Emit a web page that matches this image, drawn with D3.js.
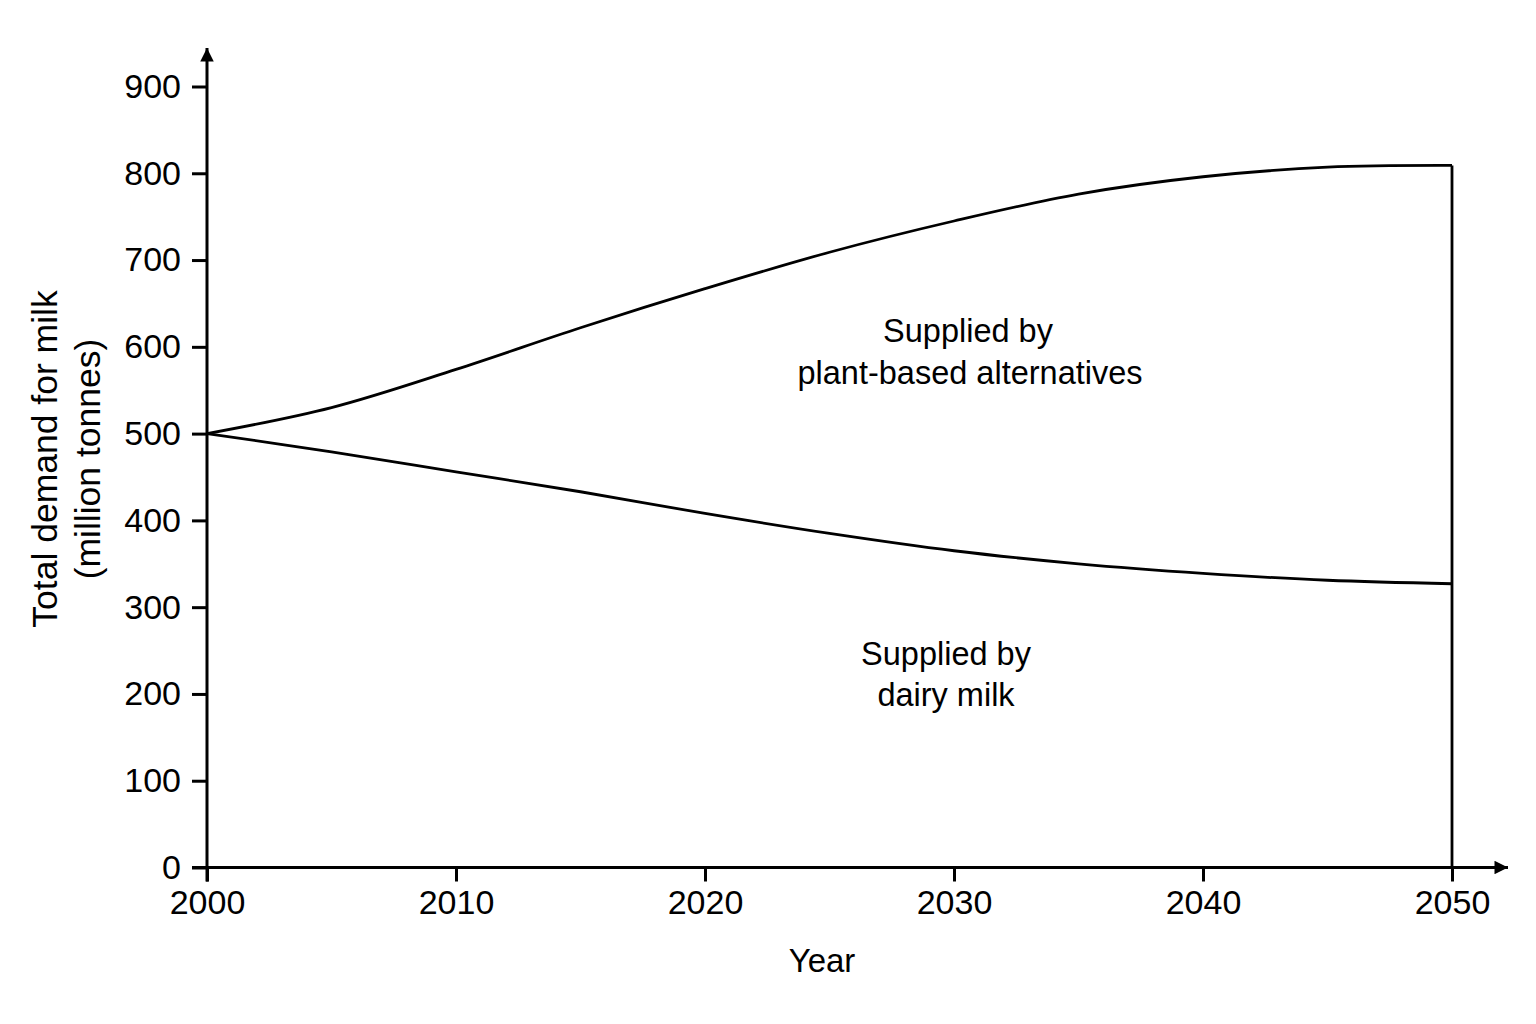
<html>
<head>
<meta charset="utf-8">
<title>Total demand for milk</title>
<style>
  body { margin: 0; background: #fff; }
  text { font-family: "Liberation Sans", Arial, Helvetica, sans-serif; fill: #000; }
</style>
<script src="https://d3js.org/d3.v7.min.js"></script>
</head>
<body>
<svg width="1536" height="1024"></svg>
<script>
// values (million tonnes)
var years = [2000, 2005, 2010, 2015, 2020, 2025, 2030, 2035, 2040, 2045, 2050];
var totalDemand = [500, 530, 574, 622, 667, 709, 745, 776, 796, 807, 809];
var dairySupply = [500, 479, 456, 433, 408, 385, 365, 350, 339, 331, 327];
var yTicks = [0, 100, 200, 300, 400, 500, 600, 700, 800, 900];
var xTicks = [2000, 2010, 2020, 2030, 2040, 2050];

var svg = d3.select("svg");

var x = d3.scaleLinear().domain([2000, 2050]).range([207, 1452]);
var y = d3.scaleLinear().domain([0, 900]).range([867.5, 86.5]);

// arrow heads
var defs = svg.append("defs");
defs.append("marker")
    .attr("id", "arrow")
    .attr("viewBox", "0 0 10 10")
    .attr("refX", 10).attr("refY", 5)
    .attr("markerWidth", 5.5).attr("markerHeight", 4.5)
    .attr("markerUnits", "strokeWidth")
    .attr("orient", "auto")
  .append("path")
    .attr("d", "M0,0 L10,5 L0,10 z")
    .attr("fill", "#000");

var tickFont = "34px";

// y axis ticks + labels
var yAxis = svg.append("g")
    .attr("transform", "translate(" + x(2000) + ",0)")
    .call(d3.axisLeft(y).tickValues(yTicks).tickSize(15).tickSizeOuter(0).tickPadding(11));
yAxis.select(".domain").remove();
yAxis.selectAll(".tick line").attr("stroke", "#000").attr("stroke-width", 3);
yAxis.selectAll(".tick text").style("font-size", tickFont).style("font-family", "'Liberation Sans', Arial, sans-serif");

// x axis ticks + labels
var xAxis = svg.append("g")
    .attr("transform", "translate(0," + y(0) + ")")
    .call(d3.axisBottom(x).tickValues(xTicks).tickFormat(d3.format("d")).tickSize(14).tickSizeOuter(0).tickPadding(8));
xAxis.select(".domain").remove();
xAxis.selectAll(".tick line").attr("stroke", "#000").attr("stroke-width", 3);
xAxis.selectAll(".tick text").style("font-size", tickFont).style("font-family", "'Liberation Sans', Arial, sans-serif");

// axis lines with arrows
svg.append("line")
    .attr("x1", x(2000)).attr("y1", y(0) + 14)
    .attr("x2", x(2000)).attr("y2", 48)
    .attr("stroke", "#000").attr("stroke-width", 3)
    .attr("marker-end", "url(#arrow)");
svg.append("line")
    .attr("x1", x(2000) - 15).attr("y1", y(0))
    .attr("x2", 1508).attr("y2", y(0))
    .attr("stroke", "#000").attr("stroke-width", 3)
    .attr("marker-end", "url(#arrow)");

var rows = years.map(function(d, i) { return {year: d, total: totalDemand[i], dairy: dairySupply[i]}; });

var totalLine = d3.line().x(d => x(d.year)).y(d => y(d.total)).curve(d3.curveCatmullRom.alpha(0.5));
var dairyLine = d3.line().x(d => x(d.year)).y(d => y(d.dairy)).curve(d3.curveCatmullRom.alpha(0.5));

svg.append("path")
    .datum(rows)
    .attr("d", totalLine)
    .attr("fill", "none").attr("stroke", "#000").attr("stroke-width", 2.8);
svg.append("path")
    .datum(rows)
    .attr("d", dairyLine)
    .attr("fill", "none").attr("stroke", "#000").attr("stroke-width", 2.8);

// closing line at 2050
var last = rows[rows.length - 1];
svg.append("line")
    .attr("x1", x(last.year)).attr("y1", y(last.total))
    .attr("x2", x(last.year)).attr("y2", y(0))
    .attr("stroke", "#000").attr("stroke-width", 2.8);

// area labels
var plantLbl = svg.append("text").attr("text-anchor", "middle").style("font-size", "32.5px");
plantLbl.append("tspan").attr("x", 968).attr("y", 342).text("Supplied by");
plantLbl.append("tspan").attr("x", 970).attr("y", 384).text("plant-based alternatives");

var dairyLbl = svg.append("text").attr("text-anchor", "middle").style("font-size", "32.5px");
dairyLbl.append("tspan").attr("x", 946).attr("y", 665).text("Supplied by");
dairyLbl.append("tspan").attr("x", 946).attr("y", 706).text("dairy milk");

// axis titles
svg.append("text")
    .attr("x", 822).attr("y", 972)
    .attr("text-anchor", "middle")
    .style("font-size", "33px")
    .text("Year");

var yTitle = svg.append("text")
    .attr("transform", "rotate(-90)")
    .attr("text-anchor", "middle")
    .style("font-size", "35.5px");
yTitle.append("tspan").attr("x", -459).attr("y", 57).text("Total demand for milk");
yTitle.append("tspan").attr("x", -459).attr("y", 100).text("(million tonnes)");
</script>
</body>
</html>
